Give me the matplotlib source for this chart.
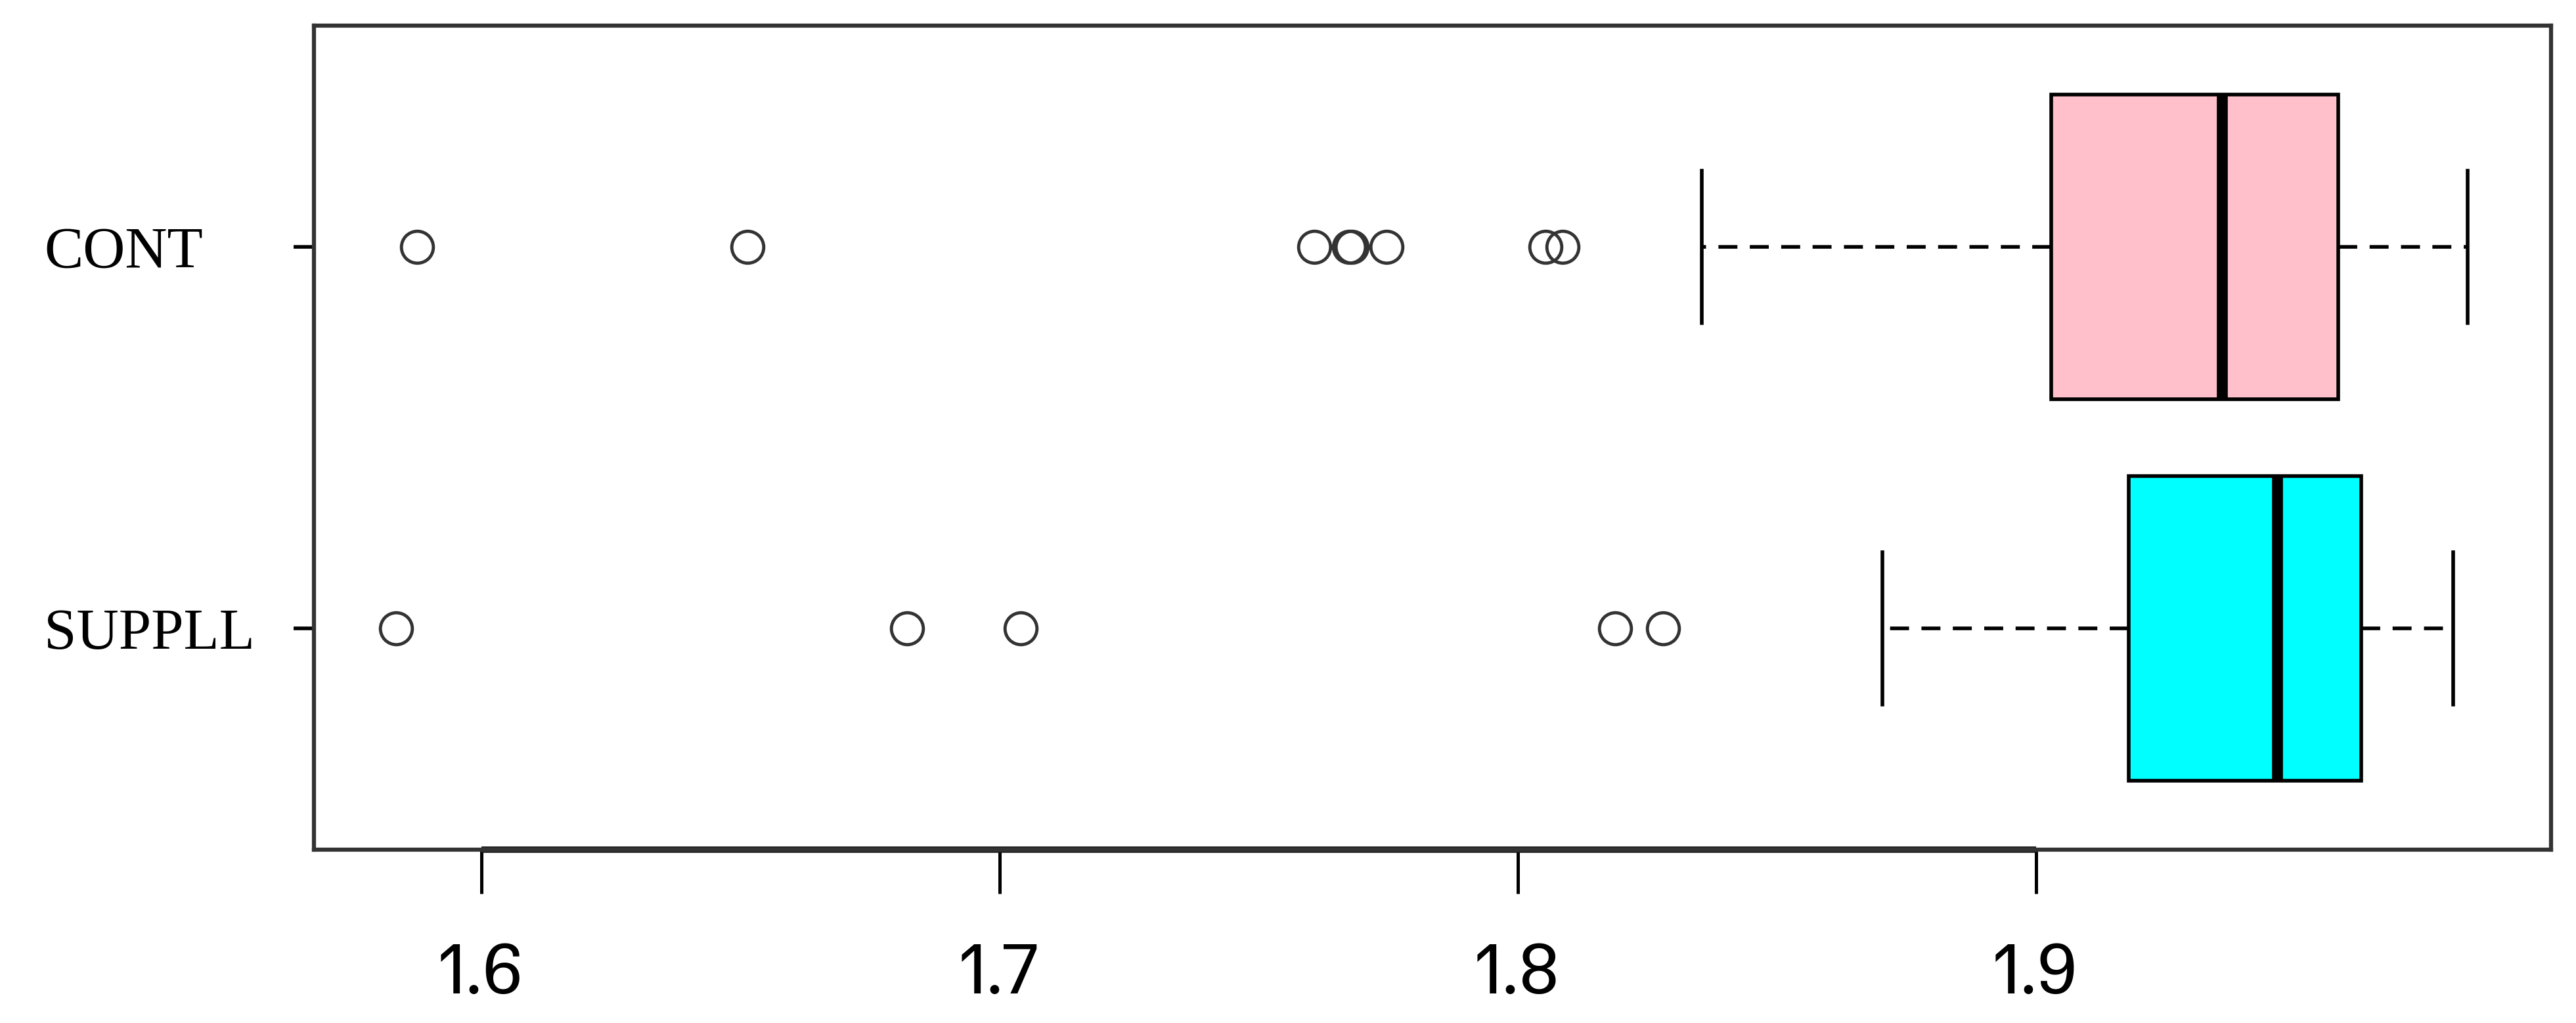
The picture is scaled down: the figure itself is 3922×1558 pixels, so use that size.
import matplotlib
matplotlib.use("Agg")
import matplotlib.pyplot as plt
from matplotlib import font_manager
from matplotlib.textpath import TextPath

# groups from bottom to top (R draws group 1 at the bottom)
groups = ["SUPPLL", "CONT"]
box_colors = ["#00FFFF", "#FFC0CB"]

# five-number summaries
whislo = [1.8704, 1.8355]
q1 = [1.9179, 1.9030]
med = [1.9466, 1.9359]
q3 = [1.9628, 1.9583]
whishi = [1.9805, 1.9833]
fliers = [
    [1.5835, 1.6822, 1.7041, 1.8188, 1.8281],
    [1.5876, 1.6514, 1.7607, 1.7675, 1.7680, 1.7747, 1.8054, 1.8087],
]

xticks = [1.6, 1.7, 1.8, 1.9]


def pick_narrow_font(target=1.56):
    # the tick digits are narrow (Helvetica Narrow look); pick the installed
    # sans font whose "1.6" width / digit height is closest to the target
    best, best_err = font_manager.FontProperties(family="Liberation Sans"), None
    for f in font_manager.fontManager.ttflist:
        if f.style != "normal" or f.weight not in (400, "normal", "regular"):
            continue
        if "Sans" not in f.name and "Roboto" not in f.name and "Inter" not in f.name:
            continue
        if "Mono" in f.name or "CJK" in f.name:
            continue
        try:
            fp = font_manager.FontProperties(fname=f.fname)
            ext = TextPath((0, 0), "1.6", size=100, prop=fp).get_extents()
        except Exception:
            continue
        if ext.height <= 0:
            continue
        err = abs(ext.width / ext.height - target)
        if best_err is None or err < best_err:
            best, best_err = fp, err
    return best


tick_prop = pick_narrow_font()
tick_prop.set_size(77)

DPI = 100
fig = plt.figure(figsize=(3923 / DPI, 1558 / DPI), dpi=DPI)
ax = fig.add_axes([478 / 3923, 1 - 1294 / 1558, (3884 - 478) / 3923, (1294 - 39) / 1558])

stats = []
for i, g in enumerate(groups):
    stats.append(dict(label=g, whislo=whislo[i], q1=q1[i], med=med[i],
                      q3=q3[i], whishi=whishi[i], fliers=fliers[i]))

bp = ax.bxp(stats, positions=[1, 2], vert=False, widths=0.8, capwidths=0.4,
            patch_artist=True,
            boxprops=dict(edgecolor="black", linewidth=4),
            medianprops=dict(color="black", linewidth=12, solid_capstyle="butt"),
            whiskerprops=dict(color="black", linewidth=4, linestyle=(0, (5.2, 3.4)),
                              dash_capstyle="butt"),
            capprops=dict(color="black", linewidth=4),
            flierprops=dict(marker="o", markersize=35, markerfacecolor="none",
                            markeredgecolor="#333333", markeredgewidth=3.5))
for patch, c in zip(bp["boxes"], box_colors):
    patch.set_facecolor(c)

ax.set_xlim(1.5677, 1.9994)
ax.set_ylim(0.42, 2.58)

for s in ax.spines.values():
    s.set_linewidth(4.5)
    s.set_color("#333333")

# R axis line, drawn from the first to the last tick
ax.hlines(0, xticks[0], xticks[-1], transform=ax.get_xaxis_transform(),
          color="#1a1a1a", linewidth=7, clip_on=False)

ax.set_xticks(xticks)
ax.set_xticklabels([f"{t:.1f}" for t in xticks], fontproperties=tick_prop)
ax.tick_params(axis="x", length=48, width=3.6, pad=56, color="black")

ax.set_yticks([1, 2])
ax.set_yticklabels(groups, fontsize=64, family="Liberation Serif")
ax.tick_params(axis="y", length=22, width=4, pad=274, color="black")
for lab in ax.get_yticklabels():
    lab.set_horizontalalignment("left")

fig.savefig("out.png", dpi=DPI, facecolor="white")
